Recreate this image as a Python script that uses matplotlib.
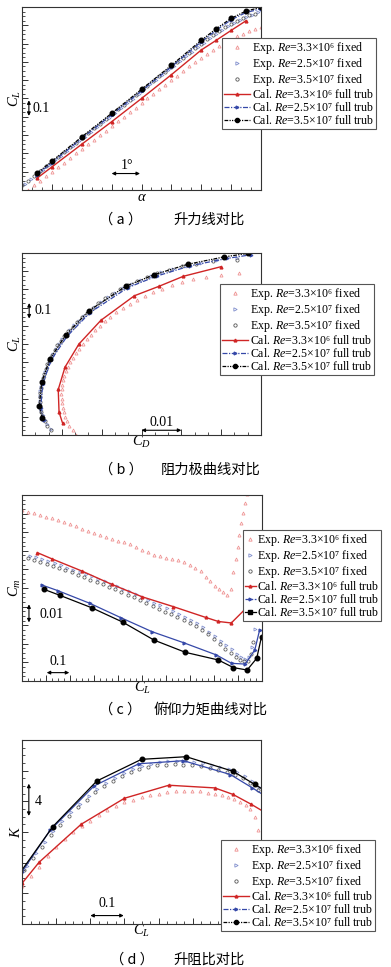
import matplotlib
matplotlib.use('Agg')
import matplotlib.pyplot as plt
from matplotlib.lines import Line2D
from matplotlib.ticker import MultipleLocator, NullFormatter

plt.rcParams['font.family'] = ['Liberation Serif', 'DejaVu Sans']
plt.rcParams['mathtext.fontset'] = 'custom'
plt.rcParams['mathtext.rm'] = 'Liberation Serif'
plt.rcParams['mathtext.it'] = 'Liberation Serif:italic'
plt.rcParams['mathtext.bf'] = 'Liberation Serif:bold'

# ---------------- data ----------------
# Exp Re=3.3e6 fixed
e33_alpha = [-1.8, -1.6, -1.4, -1.2, -1.0, -0.8, -0.6, -0.4, -0.2, 0.0, 0.2, 0.4, 0.6, 0.8, 1.0,
             1.2, 1.4, 1.6, 1.8, 2.0, 2.2, 2.4, 2.6, 2.8, 3.0, 3.2, 3.4, 3.6, 3.8, 4.0, 4.2, 4.4,
             4.6, 4.8, 5.0, 5.2, 5.4, 5.6, 5.8, 6.0, 6.2, 6.4, 6.6, 6.8, 7.0, 7.2]
e33_cl = [-0.200, -0.175, -0.150, -0.125, -0.100, -0.075, -0.050, -0.025, 0.000, 0.025, 0.050,
          0.075, 0.100, 0.125, 0.150, 0.175, 0.200, 0.225, 0.250, 0.275, 0.300, 0.325, 0.350,
          0.375, 0.400, 0.425, 0.450, 0.475, 0.499, 0.522, 0.544, 0.565, 0.585, 0.604, 0.622,
          0.639, 0.655, 0.669, 0.681, 0.690, 0.698, 0.706, 0.714, 0.722, 0.730, 0.738]
e33_cd = [0.0136, 0.0127, 0.0119, 0.0113, 0.0108, 0.0105, 0.0103, 0.0101, 0.0100, 0.0099, 0.0100,
          0.0101, 0.0103, 0.0106, 0.0110, 0.0115, 0.0121, 0.0128, 0.0135, 0.0143, 0.0152, 0.0162,
          0.0173, 0.0184, 0.0195, 0.0208, 0.0222, 0.0237, 0.0253, 0.0270, 0.0288, 0.0309, 0.0330,
          0.0352, 0.0376, 0.0402, 0.0430, 0.0462, 0.0500, 0.0545, 0.0610, 0.0670, 0.0730, 0.0790,
          0.0850, 0.0910]
e33_cm = [-0.0081, -0.0090, -0.0099, -0.0108, -0.0117, -0.0126, -0.0135, -0.0145, -0.0157, -0.0169,
          -0.0181, -0.0193, -0.0205, -0.0215, -0.0225, -0.0235, -0.0245, -0.0255, -0.0266, -0.0280,
          -0.0295, -0.0309, -0.0320, -0.0329, -0.0337, -0.0344, -0.0351, -0.0360, -0.0374, -0.0390,
          -0.0407, -0.0440, -0.0465, -0.0487, -0.0506, -0.0524, -0.0536, -0.0505, -0.0415, -0.0345,
          -0.0280, -0.0215, -0.0150, -0.0098, -0.0045, 0.0005]
e33_k_cl = [0.000, 0.025, 0.050, 0.075, 0.100, 0.125, 0.150, 0.175, 0.200, 0.225, 0.250, 0.275,
            0.300, 0.325, 0.350, 0.375, 0.400, 0.425, 0.450, 0.475, 0.499, 0.522, 0.544, 0.565,
            0.585, 0.604, 0.622, 0.639, 0.655, 0.669, 0.681, 0.690, 0.698, 0.706]
e33_k = [12.9, 14.2, 15.5, 16.9, 18.1, 19.1, 20.0, 20.8, 21.5, 22.2, 22.9, 23.4, 23.9, 24.2, 24.55,
         24.8, 25.0, 25.2, 25.3, 25.35, 25.35, 25.3, 25.1, 24.95, 24.8, 24.55, 24.3, 23.95, 23.5,
         23.0, 21.9, 20.2, 17.6, 14.5]

# Exp Re=2.5e7 fixed
e25_alpha = [-1.9, -1.7, -1.5, -1.3, -1.1, -0.9, -0.7, -0.5, -0.3, -0.1, 0.1, 0.3, 0.5, 0.7, 0.9,
             1.1, 1.3, 1.5, 1.7, 1.9, 2.1, 2.3, 2.5, 2.7, 2.9, 3.1, 3.3, 3.5, 3.7, 3.9, 4.1, 4.3,
             4.5, 4.7, 4.9, 5.1, 5.3, 5.5, 5.7, 5.9]
e25_cl = [-0.168, -0.142, -0.116, -0.090, -0.064, -0.038, -0.012, 0.014, 0.040, 0.066, 0.092,
          0.118, 0.144, 0.170, 0.196, 0.221, 0.247, 0.273, 0.299, 0.325, 0.351, 0.377, 0.403,
          0.428, 0.454, 0.480, 0.505, 0.531, 0.556, 0.581, 0.605, 0.629, 0.652, 0.674, 0.695,
          0.714, 0.731, 0.746, 0.759, 0.770]
e25_cd = [0.0072, 0.0063, 0.0057, 0.0052, 0.0048, 0.0046, 0.0045, 0.0045, 0.0046, 0.0048, 0.0051,
          0.0054, 0.0058, 0.0062, 0.0067, 0.0072, 0.0078, 0.0085, 0.0093, 0.0101, 0.0110, 0.0120,
          0.0131, 0.0143, 0.0155, 0.0169, 0.0183, 0.0199, 0.0216, 0.0234, 0.0254, 0.0275, 0.0298,
          0.0323, 0.0350, 0.0380, 0.0413, 0.0449, 0.0490, 0.0540]
e25_cm = [-0.0326, -0.0336, -0.0346, -0.0356, -0.0367, -0.0379, -0.0391, -0.0403, -0.0414, -0.0426,
          -0.0438, -0.0451, -0.0463, -0.0476, -0.0489, -0.0503, -0.0518, -0.0533, -0.0548, -0.0563,
          -0.0579, -0.0594, -0.0609, -0.0623, -0.0638, -0.0654, -0.0671, -0.0689, -0.0710, -0.0735,
          -0.0760, -0.0785, -0.0806, -0.0830, -0.0855, -0.0872, -0.0880, -0.0872, -0.0815, -0.0720]
e25_k_cl = [0.014, 0.040, 0.066, 0.092, 0.118, 0.144, 0.170, 0.196, 0.221, 0.247, 0.273, 0.299,
            0.325, 0.351, 0.377, 0.403, 0.428, 0.454, 0.480, 0.505, 0.531, 0.556, 0.581, 0.605,
            0.629, 0.652, 0.674, 0.695, 0.714]
e25_k = [15.6, 17.2, 18.7, 20.1, 21.4, 22.6, 23.7, 24.7, 25.6, 26.4, 27.1, 27.7, 28.2, 28.6, 28.9,
         29.1, 29.2, 29.25, 29.2, 29.1, 28.95, 28.75, 28.5, 28.2, 27.8, 27.3, 26.7, 25.9, 25.0]

# Exp Re=3.5e7 fixed
e35_alpha = [-2.0, -1.8, -1.6, -1.4, -1.2, -1.0, -0.8, -0.6, -0.4, -0.2, 0.0, 0.2, 0.4, 0.6, 0.8,
             1.0, 1.2, 1.4, 1.6, 1.8, 2.0, 2.2, 2.4, 2.6, 2.8, 3.0, 3.2, 3.4, 3.6, 3.8, 4.0, 4.2,
             4.4, 4.6, 4.8, 5.0, 5.2, 5.4, 5.6, 5.8]
e35_cl = [-0.175, -0.149, -0.123, -0.097, -0.071, -0.045, -0.019, 0.007, 0.033, 0.059, 0.085,
          0.111, 0.137, 0.163, 0.189, 0.214, 0.240, 0.266, 0.292, 0.318, 0.344, 0.370, 0.396,
          0.421, 0.447, 0.473, 0.499, 0.524, 0.550, 0.575, 0.600, 0.624, 0.647, 0.669, 0.690,
          0.709, 0.726, 0.741, 0.754, 0.764]
e35_cd = [0.0073, 0.0064, 0.0057, 0.0051, 0.0047, 0.0045, 0.0044, 0.0044, 0.0045, 0.0047, 0.0049,
          0.0052, 0.0055, 0.0059, 0.0064, 0.0069, 0.0075, 0.0082, 0.0089, 0.0097, 0.0106, 0.0116,
          0.0127, 0.0138, 0.0150, 0.0163, 0.0177, 0.0192, 0.0209, 0.0227, 0.0246, 0.0267, 0.0289,
          0.0313, 0.0340, 0.0370, 0.0402, 0.0437, 0.0480, 0.0540]
e35_cm = [-0.0341, -0.0351, -0.0361, -0.0371, -0.0381, -0.0392, -0.0404, -0.0416, -0.0429, -0.0442,
          -0.0455, -0.0468, -0.0480, -0.0494, -0.0507, -0.0521, -0.0535, -0.0550, -0.0565, -0.0581,
          -0.0597, -0.0612, -0.0627, -0.0641, -0.0656, -0.0671, -0.0688, -0.0706, -0.0726, -0.0748,
          -0.0773, -0.0800, -0.0826, -0.0851, -0.0873, -0.0889, -0.0895, -0.0890, -0.0855, -0.0790]
e35_k_cl = [0.007, 0.033, 0.059, 0.085, 0.111, 0.137, 0.163, 0.189, 0.214, 0.240, 0.266, 0.292,
            0.318, 0.344, 0.370, 0.396, 0.421, 0.447, 0.473, 0.499, 0.524, 0.550, 0.575, 0.600,
            0.624, 0.647, 0.669, 0.690, 0.709]
e35_k = [15.0, 16.6, 18.1, 19.6, 20.9, 22.1, 23.2, 24.2, 25.2, 26.0, 26.7, 27.3, 27.8, 28.2, 28.5,
         28.7, 28.8, 28.85, 28.8, 28.7, 28.6, 28.4, 28.15, 27.85, 27.5, 27.0, 26.4, 25.5, 24.6]

# Cal Re=3.3e6 full turb
c33_alpha = [-1.5, -1.0, 0.0, 1.0, 2.0, 3.0, 4.0, 4.5, 5.0, 5.5]
c33_cl = [-0.136, -0.074, 0.050, 0.173, 0.300, 0.430, 0.565, 0.618, 0.672, 0.725]
c33_cd = [0.0102, 0.0093, 0.0091, 0.0108, 0.0143, 0.0198, 0.0282, 0.0345, 0.0405, 0.0500]
c33_cm = [-0.0310, -0.0344, -0.0409, -0.0480, -0.0547, -0.0600, -0.0658, -0.0680, -0.0688, -0.0620]
c33_k_cl = [-0.074, 0.000, 0.050, 0.173, 0.300, 0.430, 0.565, 0.618, 0.672, 0.725]
c33_k = [9.2, 13.3, 16.05, 21.0, 24.4, 26.1, 25.75, 24.9, 23.6, 22.2]

# Cal Re=2.5e7 full turb
c25_alpha = [-1.5, -1.0, 0.0, 1.0, 2.0, 3.0, 4.0, 4.5, 5.0, 5.5, 6.0]
c25_cl = [-0.117, -0.051, 0.082, 0.211, 0.342, 0.473, 0.610, 0.673, 0.730, 0.770, 0.790]
c25_cd = [0.0054, 0.0047, 0.0052, 0.0073, 0.0113, 0.0171, 0.0266, 0.0338, 0.0423, 0.0514, 0.0574]
c25_cm = [-0.0484, -0.0514, -0.0582, -0.0659, -0.0735, -0.0794, -0.0860, -0.0905, -0.0909,
          -0.0833, -0.0726]
c25_k_cl = [-0.051, 0.000, 0.082, 0.211, 0.342, 0.473, 0.610, 0.673, 0.730]
c25_k = [11.9, 14.8, 20.2, 26.0, 28.9, 29.3, 27.5, 25.8, 24.2]

# Cal Re=3.5e7 full turb
c35_alpha = [-1.5, -1.0, 0.0, 1.0, 2.0, 3.0, 4.0, 4.5, 5.0, 5.5, 6.0]
c35_cl = [-0.109, -0.043, 0.090, 0.219, 0.350, 0.481, 0.618, 0.681, 0.738, 0.778, 0.798]
c35_cd = [0.0051, 0.00435, 0.00494, 0.00704, 0.0110, 0.0167, 0.0261, 0.0332, 0.0416, 0.0506, 0.0567]
c35_cm = [-0.0507, -0.0539, -0.0606, -0.0683, -0.0780, -0.0846, -0.0887, -0.0928, -0.0941,
          -0.0878, -0.0762]
c35_k_cl = [-0.043, 0.090, 0.219, 0.350, 0.481, 0.618, 0.681, 0.738]
c35_k = [12.35, 20.69, 26.65, 29.48, 29.82, 27.92, 26.22, 24.66]

labels = [r'Exp. $Re$=3.3×10⁶ fixed', r'Exp. $Re$=2.5×10⁷ fixed',
          r'Exp. $Re$=3.5×10⁷ fixed', r'Cal. $Re$=3.3×10⁶ full trub',
          r'Cal. $Re$=2.5×10⁷ full trub', r'Cal. $Re$=3.5×10⁷ full trub']
cap_tags = ['（ a ）', '（ b ）', '（ c ）', '（ d ）']
cap_titles = ['升力线对比', '阻力极曲线对比', '俯仰力矩曲线对比', '升阻比对比']

# ---------------- styles ----------------
C_PINK = '#ee8f8f'
C_RED = '#d02525'
C_LBLUE = '#7f8dcc'
C_BLUE = '#3548a8'
C_GREY = '#555555'
DASHDOT = (0, (4, 1.2, 1, 1.2))
DASHDOTDOT = (0, (3, 1, 1, 1, 1, 1))
CJK = ['Noto Sans CJK SC', 'DejaVu Sans']

W, H = 391, 967
fig = plt.figure(figsize=(W / 100, H / 100), dpi=100)


def add_ax(l, t, r, b):
    return fig.add_axes([l / W, 1 - b / H, (r - l) / W, (b - t) / H])


def style_ax(ax, xmaj, xmin, ymaj, ymin):
    ax.xaxis.set_major_locator(MultipleLocator(xmaj))
    ax.xaxis.set_minor_locator(MultipleLocator(xmin))
    ax.yaxis.set_major_locator(MultipleLocator(ymaj))
    ax.yaxis.set_minor_locator(MultipleLocator(ymin))
    ax.xaxis.set_major_formatter(NullFormatter())
    ax.yaxis.set_major_formatter(NullFormatter())
    ax.tick_params(which='both', direction='in', top=False, right=False, color='#333333', pad=0)
    ax.tick_params(which='major', length=4, width=0.7)
    ax.tick_params(which='minor', length=2.2, width=0.6)
    for s in ax.spines.values():
        s.set_linewidth(0.8)
        s.set_color('#333333')


def plot_all(ax, xs, ys, solid=False):
    (x33, y33), (x25, y25), (x35, y35), (cx33, cy33), (cx25, cy25), (cx35, cy35) = zip(xs, ys)
    ax.plot(x33, y33, ls='none', marker='^', ms=2.2, mfc='none', mec=C_PINK, mew=0.55)
    ax.plot(x25, y25, ls='none', marker='>', ms=2.2, mfc='none', mec=C_LBLUE, mew=0.55)
    ax.plot(x35, y35, ls='none', marker='o', ms=2.3, mfc='none', mec=C_GREY, mew=0.55)
    ax.plot(cx33, cy33, ls='-', color=C_RED, lw=1.0, marker='^', ms=2.0, mfc=C_RED, mec=C_RED)
    ax.plot(cx25, cy25, ls='-' if solid else DASHDOT, color=C_BLUE, lw=0.9,
            marker='>', ms=2.0, mfc=C_BLUE, mec=C_BLUE)
    ax.plot(cx35, cy35, ls='-' if solid else DASHDOTDOT, color='black', lw=0.9,
            marker='o', ms=3.3, mfc='black', mec='black')


def legend_handles(short=False):
    return [
        Line2D([], [], ls='none', marker='^', ms=2.4, mfc='none', mec=C_PINK, mew=0.6),
        Line2D([], [], ls='none', marker='>', ms=2.4, mfc='none', mec=C_LBLUE, mew=0.6),
        Line2D([], [], ls='none', marker='o', ms=2.4, mfc='none', mec=C_GREY, mew=0.6),
        Line2D([], [], ls='-', color=C_RED, lw=1.0, marker='^', ms=2.0),
        Line2D([], [], ls=DASHDOT, color=C_BLUE, lw=0.9, marker='>', ms=2.0),
        Line2D([], [], ls=DASHDOTDOT if not short else '-', color='black', lw=0.9,
               marker='o' if not short else 's', ms=3.0),
    ]


def add_legend(ax, l, t, short=False):
    leg = ax.legend(legend_handles(short), labels, loc='upper left',
                    bbox_to_anchor=(l / W, 1 - t / H), bbox_transform=fig.transFigure,
                    fontsize=8.6, frameon=True, fancybox=False, framealpha=1,
                    edgecolor='#555555', borderpad=0.15, labelspacing=0.0,
                    handlelength=0.9 if short else 2.2, handletextpad=0.12,
                    borderaxespad=0, numpoints=1)
    leg.get_frame().set_linewidth(0.8)
    leg.set_zorder(10)
    return leg


def vbar(ax, x, y0, y1, text, tx, ty):
    ax.annotate('', xy=(x, y0), xytext=(x, y1),
                arrowprops=dict(arrowstyle='<|-|>', color='black', lw=0.8,
                                mutation_scale=5, shrinkA=0, shrinkB=0))
    ax.text(tx, ty, text, fontsize=10, va='center', ha='left')


def hbar(ax, x0, x1, y, text, tx, ty):
    ax.annotate('', xy=(x0, y), xytext=(x1, y),
                arrowprops=dict(arrowstyle='<|-|>', color='black', lw=0.8,
                                mutation_scale=5, shrinkA=0, shrinkB=0))
    ax.text(tx, ty, text, fontsize=10, va='bottom', ha='center')


def caption(i, x_tag, x_end, y):
    fig.text(x_tag / W, 1 - y / H, cap_tags[i], family=CJK, fontsize=10.3,
             ha='left', va='center')
    fig.text(x_end / W, 1 - y / H, cap_titles[i], family=CJK, fontsize=10.3,
             ha='right', va='center')


# ---------------- (a) lift ----------------
ax = add_ax(22, 7, 261, 190)
plot_all(ax, [e33_alpha, e25_alpha, e35_alpha, c33_alpha, c25_alpha, c35_alpha],
         [e33_cl, e25_cl, e35_cl, c33_cl, c25_cl, c35_cl])
ax.set_xlim(-2, 6)
ax.set_ylim(-0.2, 0.8)
style_ax(ax, 1, 1 / 3, 0.1, 0.025)
vbar(ax, -1.77, 0.205, 0.29, '0.1', -1.65, 0.248)
hbar(ax, 1.0, 1.95, -0.11, '1°', 1.5, -0.10)
ax.set_xlabel(r'$\alpha$', fontsize=10.5, labelpad=1)
ax.set_ylabel(r'$C_L$', fontsize=10.5, labelpad=-1)
add_legend(ax, 222, 38)
caption(0, 99, 245, 220)

# ---------------- (b) drag polar ----------------
ax = add_ax(22, 253, 261, 435)
plot_all(ax, [e33_cd, e25_cd, e35_cd, c33_cd, c25_cd, c35_cd],
         [e33_cl, e25_cl, e35_cl, c33_cl, c25_cl, c35_cl])
ax.set_xlim(0, 0.06)
ax.set_ylim(-0.2, 0.8)
style_ax(ax, 0.01, 0.01 / 3, 0.1, 0.025)
vbar(ax, 0.0018, 0.44, 0.525, '0.1', 0.0032, 0.483)
hbar(ax, 0.030, 0.040, -0.174, '0.01', 0.035, -0.165)
ax.set_xlabel(r'$C_D$', fontsize=10.5, labelpad=-1)
ax.set_ylabel(r'$C_L$', fontsize=10.5, labelpad=-1)
add_legend(ax, 220, 284)
caption(1, 99, 260, 470)

# ---------------- (c) pitching moment ----------------
ax = add_ax(22, 495, 262, 681)
plot_all(ax, [e33_cl, e25_cl, e35_cl, c33_cl, c25_cl, c35_cl],
         [e33_cm, e25_cm, e35_cm, c33_cm, c25_cm, c35_cm], solid=True)
ax.set_xlim(-0.2, 0.8)
ax.set_ylim(-0.1, 0.0)
style_ax(ax, 0.1, 0.025, 0.01, 0.0025)
vbar(ax, -0.171, -0.0685, -0.0588, '0.01', -0.125, -0.0645)
hbar(ax, -0.097, -0.003, -0.0955, '0.1', -0.05, -0.093)
ax.set_xlabel(r'$C_L$', fontsize=10.5, labelpad=-1)
ax.set_ylabel(r'$C_m$', fontsize=10.5, labelpad=-1)
add_legend(ax, 243, 530, short=True)
caption(2, 99, 267, 710)

# ---------------- (d) lift-to-drag ----------------
ax = add_ax(22, 740, 261, 924)
plot_all(ax, [e33_k_cl, e25_k_cl, e35_k_cl, c33_k_cl, c25_k_cl, c35_k_cl],
         [e33_k, e25_k, e35_k, c33_k, c25_k, c35_k], solid=True)
ax.set_xlim(0, 0.7)
ax.set_ylim(8, 32)
style_ax(ax, 0.1, 0.025, 4, 1)
vbar(ax, 0.02, 22.1, 26.3, '4', 0.038, 24.0)
hbar(ax, 0.2, 0.298, 9.1, '0.1', 0.249, 9.8)
ax.set_xlabel(r'$C_L$', fontsize=10.5, labelpad=-1)
ax.set_ylabel(r'$K$', fontsize=10.5, labelpad=-1)
add_legend(ax, 221, 840)
caption(3, 110, 245, 960)

fig.savefig('out.png', dpi=100)
